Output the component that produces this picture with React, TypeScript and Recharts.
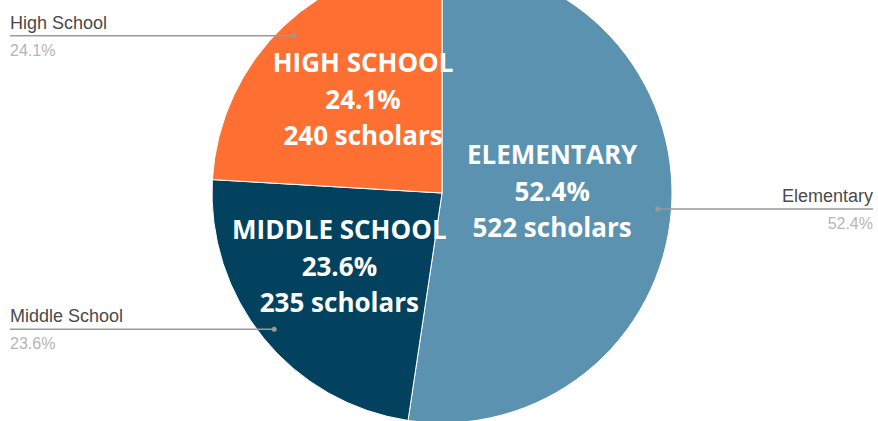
import React from 'react'
import { PieChart, Pie, Cell } from 'recharts'

const categories = ['Elementary', 'Middle School', 'High School']
const scholars = [522, 235, 240]

const COLORS = ['#5a92af', '#03425f', '#fe6f32']
// how far out from the centre each inner label sits (fraction of radius)
const LABEL_RADIUS = [0.48, 0.575, 0.5]
const WIDTH = 878
const HEIGHT = 421
const RADIAN = Math.PI / 180

const data = categories.map((name, i) => ({ name, value: scholars[i] }))

const renderLabel = (props: any) => {
  const { cx, cy, midAngle, outerRadius, percent, name, value, index } = props
  const cos = Math.cos(-midAngle * RADIAN)
  const sin = Math.sin(-midAngle * RADIAN)
  const pct = (percent * 100).toFixed(1) + '%'

  // outside label: dot inside the slice, line out to the edge
  const dx = cx + outerRadius * 0.94 * cos
  const dy = cy + outerRadius * 0.94 * sin
  const right = cos >= 0
  const ex = right ? WIDTH - 5 : 10

  // inside label
  const r = outerRadius * LABEL_RADIUS[index]
  const ix = cx + r * cos
  const iy = cy + r * sin

  return (
    <g>
      <line x1={dx} y1={dy} x2={ex} y2={dy} stroke="#9a9a9a" strokeWidth={1.5} />
      <circle cx={dx} cy={dy} r={2.5} fill="#9a9a9a" />
      <text x={ex} y={dy - 7} textAnchor={right ? 'end' : 'start'} fill="#4a4a4a" fontSize={18}
        fontFamily="'Liberation Sans', Arial, sans-serif">{name}</text>
      <text x={ex} y={dy + 20} textAnchor={right ? 'end' : 'start'} fill="#b5b5b5" fontSize={16}
        fontFamily="'Liberation Sans', Arial, sans-serif">{pct}</text>
      <text x={ix} textAnchor="middle" fill="#fff" fontSize={26} fontWeight={700}
        fontFamily="'Open Sans', sans-serif">
        <tspan x={ix} y={iy - 37}>{name.toUpperCase()}</tspan>
        <tspan x={ix} y={iy}>{pct}</tspan>
        <tspan x={ix} y={iy + 36}>{value} scholars</tspan>
      </text>
    </g>
  )
}

export default function App() {
  return (
    <div style={{ position: 'absolute', left: 0, top: 0, width: WIDTH, height: HEIGHT, background: '#fff' }}>
      <PieChart width={WIDTH} height={HEIGHT} margin={{ top: 0, right: 0, bottom: 0, left: 0 }}>
        <Pie
          data={data}
          dataKey="value"
          nameKey="name"
          cx={442}
          cy={193}
          outerRadius={230}
          startAngle={90}
          endAngle={-270}
          stroke="#ffffff"
          strokeWidth={1}
          label={renderLabel}
          labelLine={false}
          isAnimationActive={false}
        >
          {data.map((d, i) => (
            <Cell key={d.name} fill={COLORS[i]} />
          ))}
        </Pie>
      </PieChart>
    </div>
  )
}
